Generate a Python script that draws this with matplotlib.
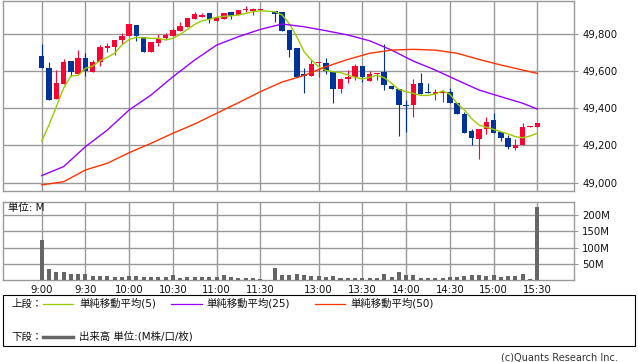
import numpy as np
import matplotlib
matplotlib.use("Agg")
import matplotlib.pyplot as plt
from matplotlib.patches import Rectangle
from matplotlib.lines import Line2D

plt.rcParams['font.family'] = ['DejaVu Sans', 'Noto Sans CJK JP']

nan = np.nan
# 5-minute slots: 0 = 9:00 ... 30 = 11:30, 31 = lunch gap, 32 = 12:30 ... 68 = 15:30
opens = [49679, 49615, 49450, 49531, 49652, 49584, 49668, 49593, 49647, 49724,
         49726, 49765, 49788, 49845, 49781, 49702, 49750, 49777, 49788, 49815,
         49835, 49877, 49890, 49908, 49867, 49877, 49915, 49897, 49924, 49922,
         49928, nan, 49920, 49913, 49818, 49724, 49584, 49574, 49641, 49643,
         49592, 49502, 49557, 49565, 49626, 49547, 49581, 49593, 49518, 49501,
         49417, 49418, 49536, 49486, 49475, 49482, 49486, 49429, 49368, 49279,
         49234, 49286, 49334, 49272, 49240, 49188, 49202, 49298, 49300]
highs = [49745, 49647, 49604, 49661, 49652, 49711, 49694, 49658, 49740, 49747,
         49765, 49801, 49851, 49845, 49781, 49756, 49799, 49804, 49828, 49861,
         49883, 49915, 49911, 49908, 49890, 49911, 49915, 49927, 49947, 49936,
         49929, nan, 49920, 49913, 49818, 49724, 49613, 49658, 49654, 49670,
         49592, 49561, 49604, 49635, 49626, 49599, 49590, 49745, 49518, 49501,
         49443, 49554, 49586, 49533, 49504, 49497, 49506, 49429, 49377, 49288,
         49288, 49352, 49372, 49272, 49256, 49234, 49322, 49304, 49322]
lows = [49613, 49445, 49450, 49531, 49572, 49584, 49572, 49593, 49627, 49702,
        49684, 49742, 49788, 49761, 49702, 49702, 49734, 49766, 49788, 49815,
        49835, 49877, 49890, 49858, 49867, 49877, 49877, 49897, 49915, 49899,
        49928, nan, 49863, 49815, 49672, 49568, 49482, 49574, 49565, 49583,
        49429, 49482, 49533, 49552, 49538, 49547, 49550, 49496, 49504, 49250,
        49273, 49354, 49475, 49479, 49443, 49434, 49425, 49368, 49268, 49202,
        49127, 49261, 49265, 49225, 49181, 49175, 49202, 49298, 49300]
closes = [49616, 49445, 49534, 49647, 49592, 49668, 49597, 49647, 49727, 49734,
          49765, 49788, 49851, 49786, 49702, 49756, 49770, 49793, 49818, 49842,
          49883, 49903, 49899, 49876, 49890, 49911, 49895, 49927, 49929, 49933,
          49929, nan, 49906, 49815, 49713, 49568, 49574, 49638, 49643, 49600,
          49502, 49556, 49568, 49626, 49565, 49583, 49590, 49522, 49504, 49418,
          49413, 49529, 49475, 49479, 49486, 49490, 49425, 49370, 49268, 49240,
          49288, 49325, 49265, 49240, 49193, 49202, 49297, 49304, 49322]
volumes = [123, 34, 25, 25, 18, 18, 18, 12, 12, 12, 9, 9, 12, 12, 9, 9, 9, 9, 15, 6,
           9, 9, 9, 9, 9, 15, 9, 6, 6, 6, 3, nan, 37, 15, 15, 18, 15, 12, 12, 9,
           12, 6, 6, 6, 6, 6, 6, 18, 9, 25, 14, 15, 6, 6, 6, 6, 9, 9, 12, 15,
           15, 12, 15, 9, 12, 12, 18, 2, 226]
ma5 = [49223, 49309, 49407, 49506, 49572, 49576, 49613, 49625, 49654, 49672,
       49694, 49738, 49768, 49779, 49777, 49774, 49774, 49766, 49774, 49795,
       49822, 49849, 49868, 49876, 49887, 49892, 49895, 49899, 49908, 49917,
       49922, nan, 49917, 49899, 49851, 49783, 49702, 49658, 49622, 49602,
       49595, 49590, 49577, 49565, 49556, 49565, 49576, 49563, 49533, 49500,
       49488, 49479, 49468, 49468, 49475, 49492, 49475, 49425, 49390, 49343,
       49309, 49297, 49286, 49273, 49261, 49247, 49241, 49250, 49265]
ma_slots = [0, 3, 6, 9, 12, 15, 18, 21, 24, 27, 30, 33, 36, 39, 42, 45, 48, 51,
            54, 57, 60, 63, 66, 68]
ma25 = [49038, 49086, 49193, 49282, 49390, 49470, 49568, 49658, 49738, 49783,
        49822, 49851, 49836, 49815, 49792, 49761, 49711, 49652, 49604, 49550,
        49497, 49461, 49426, 49395]
ma50 = [48988, 49005, 49068, 49104, 49161, 49211, 49265, 49315, 49372, 49429,
        49488, 49540, 49575, 49622, 49661, 49694, 49711, 49715, 49711, 49694,
        49661, 49631, 49604, 49586]
tick_slots = [0, 6, 12, 18, 24, 30, 38, 44, 50, 56, 62, 68]
tick_labels = ['9:00', '9:30', '10:00', '10:30', '11:00', '11:30',
               '13:00', '13:30', '14:00', '14:30', '15:00', '15:30']
price_ticks = [49000, 49200, 49400, 49600, 49800]
vol_ticks = [50, 100, 150, 200]

W, H = 638, 362
def fx(x): return x / W
def fy(y): return 1 - y / H

RED = '#ff0033'
BLUE = '#003399'
GRID = '#999999'

fig = plt.figure(figsize=(W / 100, H / 100), dpi=100)
ax1 = fig.add_axes([fx(3.3), fy(190.5), (574 - 3.3) / W, 190 / H])
ax2 = fig.add_axes([fx(3.3), fy(280), (574 - 3.3) / W, 78.3 / H])

x = np.arange(len(opens))
o = np.array(opens, float); h = np.array(highs, float)
l = np.array(lows, float); c = np.array(closes, float)
valid = ~np.isnan(o)
up = c >= o
cols = np.where(up, RED, BLUE)

for ax in (ax1, ax2):
    ax.set_xlim(-5.27, 73.04)
    for s in ax.spines.values():
        s.set_color(GRID)
        s.set_linewidth(1.0)
    ax.set_xticks(tick_slots)
    ax.grid(True, color=GRID, linewidth=1.0)
    ax.set_axisbelow(True)
    ax.yaxis.tick_right()
    ax.tick_params(axis='y', direction='out', length=3, color=GRID,
                   labelsize=7.3, pad=3, labelcolor='#111111')
    ax.tick_params(axis='x', length=0)

# price panel
ax1.set_ylim(48958, 49977)
ax1.set_yticks(price_ticks)
ax1.set_yticklabels([f'{v:,}' for v in price_ticks])
ax1.set_xticklabels([])

ax1.vlines(x[valid], l[valid], h[valid], colors=cols[valid], linewidth=0.8, zorder=3)
body_h = np.maximum(np.abs(c - o), 5.5)
body_b = np.minimum(o, c)
ax1.bar(x[valid], body_h[valid], bottom=body_b[valid], width=0.75,
        color=cols[valid], linewidth=0, zorder=4)

m5 = np.array(ma5, float)
ok = ~np.isnan(m5)
ax1.plot(x[ok], m5[ok], color='#99cc00', linewidth=1.0, zorder=5)
ax1.plot(ma_slots, ma25, color='#9900ff', linewidth=1.0, zorder=5)
ax1.plot(ma_slots, ma50, color='#ff3300', linewidth=1.0, zorder=5)

# volume panel
v = np.array(volumes, float)
okv = ~np.isnan(v)
ax2.bar(x[okv], v[okv], width=0.55, color='#666666', linewidth=0, zorder=3)
ax2.set_ylim(0, 241)
ax2.set_yticks(vol_ticks)
ax2.set_yticklabels([f'{t}M' for t in vol_ticks])
ax2.set_xticklabels(tick_labels, fontsize=7.3, color='#111111')
ax2.tick_params(axis='x', pad=3.5)
ax2.text(0.008, 0.92, '単位: M', transform=ax2.transAxes, fontsize=7.5,
         va='center', ha='left', color='#111111')

# legend box
fig.add_artist(Rectangle((fx(3.3), fy(346)), (635.3 - 3.3) / W, (346 - 295) / H,
                         transform=fig.transFigure, fill=False,
                         edgecolor='#000000', linewidth=0.8))
tk = dict(fontsize=7.5, va='center', ha='left', color='#111111')
fig.text(fx(11), fy(303.5), '上段：', **tk)
fig.text(fx(11), fy(336.5), '下段：', **tk)
def seg(x0, x1, y, color, lw):
    fig.add_artist(Line2D([fx(x0), fx(x1)], [fy(y), fy(y)], transform=fig.transFigure,
                          color=color, linewidth=lw))
seg(43, 73, 303.5, '#99cc00', 0.9)
fig.text(fx(79), fy(303.5), '単純移動平均(5)', **tk)
seg(171, 201.5, 303.5, '#9900ff', 0.9)
fig.text(fx(206.5), fy(303.5), '単純移動平均(25)', **tk)
seg(315, 345, 303.5, '#ff3300', 0.9)
fig.text(fx(350.5), fy(303.5), '単純移動平均(50)', **tk)
seg(43, 73, 336.5, '#666666', 2.5)
fig.text(fx(79), fy(336.5), '出来高 単位:(M株/口/枚)', **tk)

fig.text(fx(618), fy(357), '(c)Quants Research Inc.', fontsize=7, ha='right',
         va='center', color='#333333')

fig.savefig('out.png', dpi=100)
